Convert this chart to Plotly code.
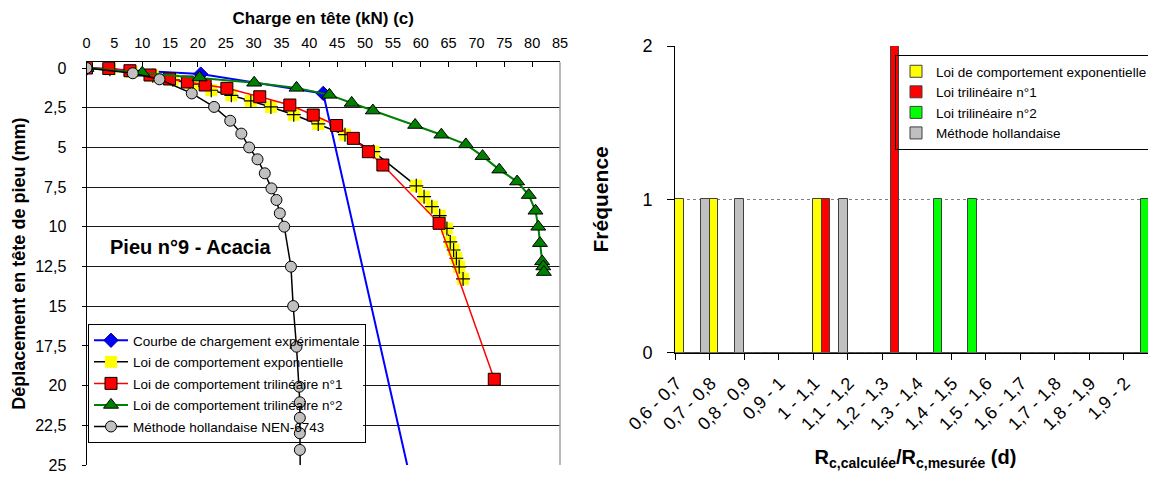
import plotly.graph_objects as go

# ---------------- Left chart data (load-settlement curves) ----------------
charge_exp = [0, 20.5, 42.5, 59.5]
depl_exp = [0, 0.38, 1.6, 28.0]

charge_expo = [0, 4.2, 8.1, 11.9, 15.5, 19.0, 22.4, 26.0, 29.5, 33.1, 37.2, 41.6, 46.4, 51.5,
               59.2, 60.6, 62.0, 63.4, 64.7, 65.3, 65.9, 66.4, 66.9, 67.6]
depl_expo = [0, 0.07, 0.25, 0.48, 0.74, 1.02, 1.4, 1.72, 2.07, 2.45, 2.94, 3.52, 4.2, 5.26,
             7.42, 8.1, 8.73, 9.3, 10.1, 10.95, 11.46, 11.98, 12.52, 13.28]

charge_tri1 = [0, 4.0, 7.8, 11.4, 14.9, 18.1, 21.3, 25.2, 31.1, 36.5, 40.7, 44.9, 47.9, 50.6,
               53.2, 63.3, 73.2]
depl_tri1 = [0, 0.03, 0.17, 0.44, 0.69, 0.88, 1.07, 1.28, 1.81, 2.33, 2.96, 3.62, 4.43, 5.27,
             6.11, 9.78, 19.6]

charge_tri2 = [0, 10.0, 20.3, 30.1, 37.7, 43.6, 47.6, 51.4, 59.0, 63.7, 68.1, 71.1, 74.1, 77.3,
               79.4, 80.6, 81.1, 81.4, 81.8, 82.0, 82.1]
depl_tri2 = [0, 0.3, 0.6, 0.93, 1.25, 1.69, 2.2, 2.68, 3.59, 4.2, 4.81, 5.55, 6.4, 7.15,
             8.0, 8.99, 10.0, 11.03, 12.18, 12.5, 12.85]

charge_nen = [0, 8.3, 13.1, 18.9, 22.9, 25.8, 27.8, 29.2, 30.7, 32.0, 33.2, 34.1, 34.7, 35.5,
              36.7, 37.1, 37.7, 38.2, 38.3, 38.3, 38.3, 38.3, 38.4]
depl_nen = [0, 0.33, 0.71, 1.6, 2.45, 3.32, 4.13, 5.0, 5.75, 6.63, 7.58, 8.31, 9.15, 9.99,
            12.51, 14.99, 17.55, 20.07, 21.05, 22.03, 23.0, 24.05, 27.0]

x_ticks_left = [0, 5, 10, 15, 20, 25, 30, 35, 40, 45, 50, 55, 60, 65, 70, 75, 80, 85]
y_ticks_left = [0, 2.5, 5, 7.5, 10, 12.5, 15, 17.5, 20, 22.5, 25]
y_ticktext_left = ["0", "2,5", "5", "7,5", "10", "12,5", "15", "17,5", "20", "22,5", "25"]

# ---------------- Right chart data (histogram of ratios) ----------------
classes = ["0,6 - 0,7", "0,7 - 0,8", "0,8 - 0,9", "0,9 - 1", "1 - 1,1", "1,1 - 1,2", "1,2 - 1,3",
           "1,3 - 1,4", "1,4 - 1,5", "1,5 - 1,6", "1,6 - 1,7", "1,7 - 1,8", "1,8 - 1,9", "1,9 - 2"]
freq_expo = [1, 1, 0, 0, 1, 0, 0, 0, 0, 0, 0, 0, 0, 0]
freq_tri1 = [0, 0, 0, 0, 1, 0, 2, 0, 0, 0, 0, 0, 0, 0]
freq_tri2 = [0, 0, 0, 0, 0, 0, 0, 1, 1, 0, 0, 0, 0, 1]
freq_nen = [1, 1, 0, 0, 1, 0, 0, 0, 0, 0, 0, 0, 0, 0]

FONT = "Arial, Liberation Sans, sans-serif"
OFF = 8                      # default page body margin
W, H = 1156 - OFF, 477 - OFF


def fx(px):
    return (px - OFF) / W


def fy(py):
    return 1 - (py - OFF) / H


fig = go.Figure()

# Left chart traces
fig.add_trace(go.Scatter(
    x=charge_exp, y=depl_exp, mode="lines+markers", name="Courbe de chargement expérimentale",
    line=dict(color="#0000FF", width=2),
    marker=dict(symbol="diamond", size=11, color="#0000FF", line=dict(color="#000080", width=1)),
    xaxis="x", yaxis="y", legend="legend", legendgroup="g1"))
fig.add_trace(go.Scatter(
    x=charge_expo, y=depl_expo, mode="lines+markers", name="Loi de comportement exponentielle",
    line=dict(color="#000000", width=1.5),
    marker=dict(symbol="square", size=12, color="#FFFF00", line=dict(width=0)),
    xaxis="x", yaxis="y", legend="legend", legendgroup="g2"))
fig.add_trace(go.Scatter(
    x=charge_expo, y=depl_expo, mode="markers", showlegend=False,
    marker=dict(symbol="cross-thin", size=10, color="#000000", line=dict(color="#000000", width=1.2)),
    xaxis="x", yaxis="y", legend="legend", legendgroup="g2", hoverinfo="skip"))
fig.add_trace(go.Scatter(
    x=charge_tri1, y=depl_tri1, mode="lines+markers", name="Loi de comportement trilinéaire n°1",
    line=dict(color="#FF0000", width=1.5),
    marker=dict(symbol="square", size=12, color="#FF0000", line=dict(color="#000000", width=1)),
    xaxis="x", yaxis="y", legend="legend", legendgroup="g3"))
fig.add_trace(go.Scatter(
    x=charge_tri2, y=depl_tri2, mode="lines+markers", name="Loi de comportement trilinéaire n°2",
    line=dict(color="#008000", width=2),
    marker=dict(symbol="triangle-up", size=13, color="#008000", line=dict(color="#000000", width=1)),
    xaxis="x", yaxis="y", legend="legend", legendgroup="g4"))
fig.add_trace(go.Scatter(
    x=charge_nen, y=depl_nen, mode="lines+markers", name="Méthode hollandaise NEN-6743",
    line=dict(color="#000000", width=1.5),
    marker=dict(symbol="circle", size=11, color="#C0C0C0", line=dict(color="#000000", width=1)),
    xaxis="x", yaxis="y", legend="legend", legendgroup="g5"))

# Right chart traces
bar_line = dict(color="#404040", width=1)
fig.add_trace(go.Bar(x=classes, y=freq_expo, name="Loi de comportement exponentielle",
                     marker=dict(color="#FFFF00", line=bar_line), xaxis="x2", yaxis="y2", legend="legend2"))
fig.add_trace(go.Bar(x=classes, y=freq_tri1, name="Loi trilinéaire n°1",
                     marker=dict(color="#FF0000", line=bar_line), xaxis="x2", yaxis="y2", legend="legend2"))
fig.add_trace(go.Bar(x=classes, y=freq_tri2, name="Loi trilinéaire n°2",
                     marker=dict(color="#00FF00", line=bar_line), xaxis="x2", yaxis="y2", legend="legend2"))
fig.add_trace(go.Bar(x=classes, y=freq_nen, name="Méthode hollandaise",
                     marker=dict(color="#C0C0C0", line=bar_line), xaxis="x2", yaxis="y2", legend="legend2"))

# Left plot area in page pixels
lx0, lx1 = 86.5, 560
ly_top, ly_bot = 62.3, 465
# Right plot area
rx0, rx1 = 675, 1156
ry_top, ry_bot = 46, 352.7

# Left legend box (page pixels) - white patch drawn under the curves, above the gridlines
leg_l, leg_t, leg_r, leg_b = 88, 324, 364, 438


def dx(px):
    return (px - lx0) / (lx1 - lx0)


def dy(py):
    return (ly_bot - py) / (ly_bot - ly_top)


fig.update_layout(
    width=W, height=H,
    margin=dict(l=0, r=0, t=0, b=0, autoexpand=False),
    paper_bgcolor="white", plot_bgcolor="white",
    font=dict(family=FONT, color="black", size=13),
    barmode="group", bargap=0, bargroupgap=0,
    xaxis=dict(
        domain=[fx(lx0), fx(lx1)], side="top", anchor="y", range=[0, 85],
        tickvals=x_ticks_left, ticks="inside", ticklen=5, tickcolor="black",
        showline=True, linecolor="black", linewidth=1, mirror=False,
        showgrid=False, zeroline=False, tickfont=dict(size=14.5), ticklabelstandoff=8,
        title=dict(text="<b>Charge en tête (kN) (c)</b>", font=dict(size=17), standoff=5)),
    yaxis=dict(
        domain=[fy(ly_bot), fy(ly_top)], anchor="x", range=[25, -0.36],
        tickvals=y_ticks_left, ticktext=y_ticktext_left, ticks="outside", ticklen=4,
        tickcolor="black", showline=True, linecolor="black", linewidth=1,
        showgrid=False, zeroline=False, tickfont=dict(size=16), ticklabelstandoff=12,
        minor=dict(tickvals=y_ticks_left[1:], showgrid=True, gridcolor="#1a1a1a", gridwidth=1, ticks=""),
        title=dict(text="<b>Déplacement en tête de pieu (mm)</b>", font=dict(size=18), standoff=4)),
    xaxis2=dict(
        domain=[fx(rx0), 1.0], anchor="y2", type="category", range=[-0.5, 13.44],
        tickson="boundaries", ticks="outside", ticklen=6, tickcolor="black", tickangle=-45,
        showline=True, linecolor="black", linewidth=1, showgrid=False, zeroline=False,
        tickfont=dict(size=18), ticklabelshift=-16, ticklabelstandoff=12,
        title=dict(text="<b>R<sub>c,calculée</sub>/R<sub>c,mesurée</sub> (d)</b>", font=dict(size=20), standoff=16)),
    yaxis2=dict(
        domain=[fy(ry_bot), fy(ry_top)], anchor="x2", range=[0, 2],
        tickvals=[0, 1, 2], ticks="outside", ticklen=7, tickcolor="black",
        showline=True, linecolor="black", linewidth=1, zeroline=False,
        showgrid=True, gridcolor="#808080", griddash="dot", gridwidth=1,
        tickfont=dict(size=18), ticklabelstandoff=11,
        title=dict(text="<b>Fréquence</b>", font=dict(size=21), standoff=28)),
    legend=dict(
        x=fx(leg_l), y=fy(leg_t), xanchor="left", yanchor="top",
        bgcolor="rgba(0,0,0,0)", bordercolor="black", borderwidth=1,
        font=dict(size=13.5, family=FONT), tracegroupgap=1, itemwidth=34),
    legend2=dict(
        x=fx(895), y=fy(55), xanchor="left", yanchor="top",
        bgcolor="rgba(0,0,0,0)", bordercolor="black", borderwidth=1,
        font=dict(size=13.5, family=FONT), tracegroupgap=0, itemwidth=30),
    annotations=[dict(
        text="<b>Pieu n°9 - Acacia</b>", x=fx(108), y=fy(247), xref="paper", yref="paper",
        xanchor="left", yanchor="middle", showarrow=False, font=dict(size=20, family=FONT))],
    shapes=[
        dict(type="rect", xref="x", yref="y", layer="between",
             x0=(leg_l + 1 - lx0) / (lx1 - lx0) * 85, x1=(leg_r - 1 - lx0) / (lx1 - lx0) * 85,
             y0=-0.36 + (leg_t + 1 - ly_top) / (ly_bot - ly_top) * 25.36,
             y1=-0.36 + (leg_b - 1 - ly_top) / (ly_bot - ly_top) * 25.36,
             fillcolor="white", line=dict(width=0)),
        dict(type="line", xref="x domain", yref="y domain", x0=1, x1=1, y0=0, y1=1,
             line=dict(color="#A0A0A0", width=1.5)),
    ],
)

fig.write_html("out.html")
